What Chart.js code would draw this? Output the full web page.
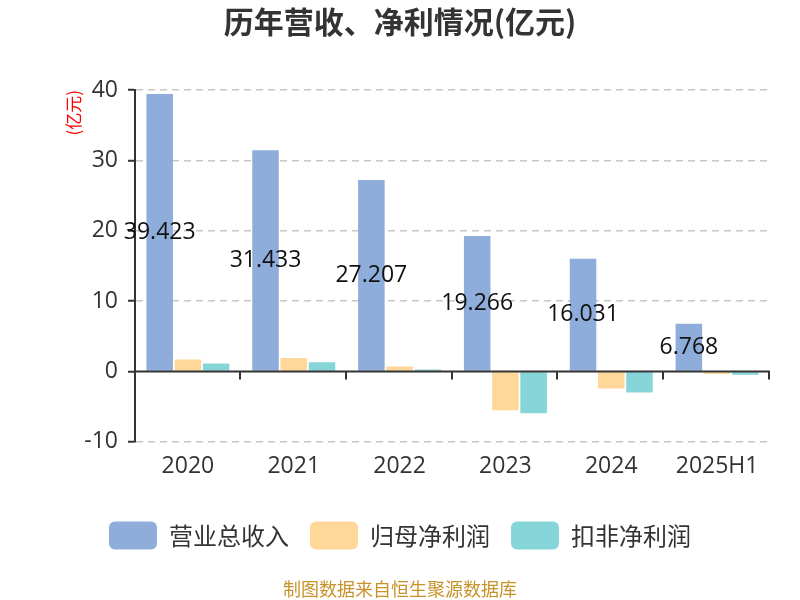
<!DOCTYPE html>
<html>
<head>
<meta charset="utf-8">
<script src="https://cdn.jsdelivr.net/npm/chart.js@4"></script>
<style>
  html, body { margin: 0; padding: 0; background: #fff; }
  #wrap { width: 800px; height: 600px; }
</style>
</head>
<body>
<div id="wrap"><canvas id="chart"></canvas></div>
<script>
const years = ['2020', '2021', '2022', '2023', '2024', '2025H1'];
const revenue = [39.423, 31.433, 27.207, 19.266, 16.031, 6.768];
const netProfit = [1.7, 1.9, 0.71, -5.5, -2.43, -0.38];
const deductedProfit = [1.14, 1.29, 0.29, -5.95, -3.0, -0.48];
const yTicks = [40, 30, 20, 10, 0, -10];

const CJK = '"Noto Sans CJK SC", sans-serif';
const NUM = '"Open Sans", "Noto Sans", sans-serif';

// value labels in the middle of the revenue bars
const barLabels = {
  id: 'barLabels',
  afterDatasetsDraw(chart) {
    const ctx = chart.ctx;
    const meta = chart.getDatasetMeta(0);
    ctx.save();
    ctx.font = '23px ' + NUM;
    ctx.fillStyle = '#111';
    ctx.textAlign = 'center';
    ctx.textBaseline = 'middle';
    meta.data.forEach((bar, i) => {
      ctx.fillText(String(revenue[i]), bar.x, (bar.y + bar.base) / 2);
    });
    ctx.restore();
  }
};

// x axis line drawn at zero, with tick marks between categories
const zeroAxis = {
  id: 'zeroAxis',
  afterDatasetsDraw(chart) {
    const { ctx, chartArea, scales } = chart;
    const y0 = scales.y.getPixelForValue(0);
    ctx.save();
    ctx.strokeStyle = '#333';
    ctx.lineWidth = 2;
    ctx.beginPath();
    ctx.moveTo(chartArea.left, y0);
    ctx.lineTo(chartArea.right, y0);
    const step = (chartArea.right - chartArea.left) / years.length;
    for (let i = 1; i <= years.length; i++) {
      const px = Math.round(chartArea.left + step * i) - 1;
      ctx.moveTo(px, y0);
      ctx.lineTo(px, y0 + 8);
    }
    ctx.stroke();
    ctx.restore();
  }
};

new Chart(document.getElementById('chart'), {
  type: 'bar',
  data: {
    labels: years,
    datasets: [
      { label: '营业总收入', data: revenue, backgroundColor: '#8eaddb' },
      { label: '归母净利润', data: netProfit, backgroundColor: '#ffd899' },
      { label: '扣非净利润', data: deductedProfit, backgroundColor: '#86d5d8' }
    ]
  },
  options: {
    responsive: true,
    maintainAspectRatio: false,
    animation: false,
    layout: { padding: { left: 30, right: 30, top: 0, bottom: 0 } },
    datasets: {
      bar: { categoryPercentage: 0.8, barPercentage: 0.94 }
    },
    plugins: {
      title: {
        display: true,
        text: '历年营收、净利情况(亿元)',
        color: '#333',
        font: { family: CJK, size: 30, weight: 'bold' },
        padding: { top: 4, bottom: 50 }
      },
      subtitle: {
        display: true,
        position: 'bottom',
        text: '制图数据来自恒生聚源数据库',
        color: '#c8922a',
        font: { family: CJK, size: 18 },
        padding: { top: 19, bottom: 0 }
      },
      legend: {
        position: 'bottom',
        labels: {
          color: '#333',
          font: { family: CJK, size: 24 },
          boxWidth: 48,
          boxHeight: 28,
          useBorderRadius: true,
          borderRadius: 6,
          padding: 21
        }
      },
      tooltip: { enabled: false }
    },
    scales: {
      x: {
        grid: { display: false, drawTicks: false },
        border: { display: false },
        ticks: { color: '#333', font: { family: NUM, size: 23 }, padding: 11 },
        afterFit(scale) { scale.height += 9; }
      },
      y: {
        min: -10,
        max: 40,
        afterBuildTicks(scale) {
          scale.ticks = yTicks.map(v => ({ value: v }));
        },
        afterFit(scale) { scale.width = 105; },
        ticks: { color: '#333', font: { family: NUM, size: 23 }, padding: 10 },
        grid: {
          color: ctx => (ctx.tick && ctx.tick.value === 0) ? 'rgba(0,0,0,0)' : '#c8c8c8',
          lineWidth: 1.5,
          tickColor: '#333',
          tickLength: 7,
          tickWidth: 2
        },
        border: { display: true, color: '#333', width: 2, dash: [7, 5] },
        title: {
          display: true,
          text: '(亿元)',
          align: 'end',
          color: 'red',
          font: { family: CJK, size: 17 },
          padding: { top: 33, bottom: 0 }
        }
      }
    }
  },
  plugins: [barLabels, zeroAxis]
});
</script>
</body>
</html>
